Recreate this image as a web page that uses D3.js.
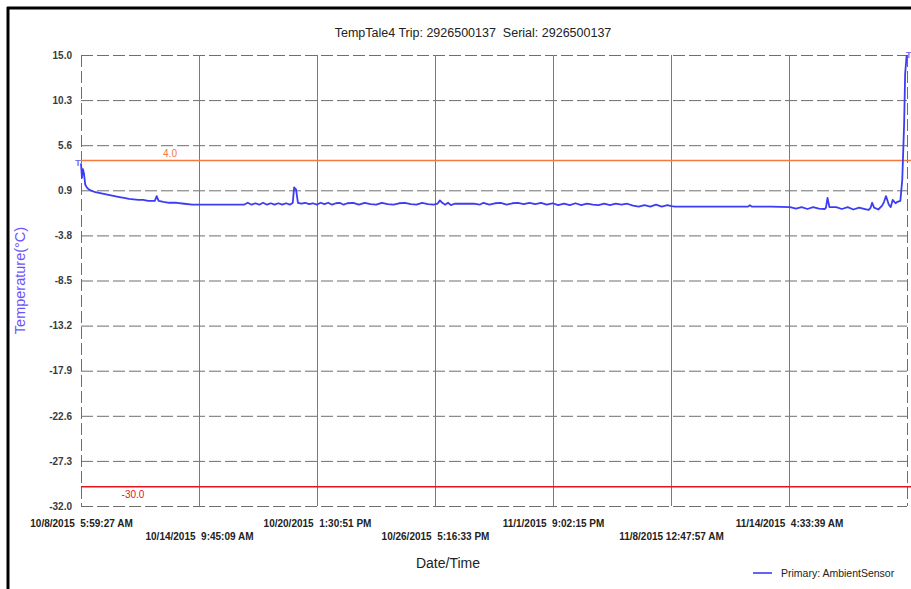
<!DOCTYPE html>
<html>
<head>
<meta charset="utf-8">
<script src="https://cdn.jsdelivr.net/npm/d3@7"></script>
<style>
  body { margin: 0; background: #fff; }
  svg { display: block; font-family: "Liberation Sans", Arial, sans-serif; }
  .grid-h line { stroke: #6e6e6e; stroke-dasharray: 12,4; }
  .grid-v line { stroke: #7a7a7a; }
</style>
</head>
<body>
<script>
// chart text
var chartTitle = "TempTale4 Trip: 2926500137  Serial: 2926500137";
var seriesName = "Primary: AmbientSensor";

// x tick labels, as printed on the report
var xTickLabels = [
  "10/8/2015 5:59:27 AM",
  "10/14/2015 9:45:09 AM",
  "10/20/2015 1:30:51 PM",
  "10/26/2015 5:16:33 PM",
  "11/1/2015 9:02:15 PM",
  "11/8/2015 12:47:57 AM",
  "11/14/2015 4:33:39 AM"
];
var xEndLabel = "11/20/2015 8:19:21 AM";

// y ticks
var yTickValues = [15.0, 10.3, 5.6, 0.9, -3.8, -8.5, -13.2, -17.9, -22.6, -27.3, -32.0];

// alarm limits
var limitValues = [4.0, -30.0];
var limitColors = ["#f5793a", "#e3141c"];

// readings: days since trip start, temperature (C)
var sampleDays = [
  0, 0.05, 0.1, 0.16, 0.22, 0.3, 0.4, 0.5, 0.75, 1.0,
  1.25, 1.5, 1.75, 2.0, 2.25, 2.5, 3.0, 3.25, 3.5, 3.85,
  3.95, 4.05, 4.3, 4.6, 5.0, 5.4, 5.8, 6.2, 7.0, 8.0,
  8.5, 8.7, 8.9, 9.1, 9.3, 9.5, 9.7, 9.9, 10.1, 10.3,
  10.5, 10.7, 10.9, 11.05, 11.12, 11.22, 11.32, 11.5, 11.7, 11.9,
  12.1, 12.3, 12.5, 12.7, 12.9, 13.1, 13.3, 13.5, 13.7, 13.9,
  14.2, 14.5, 14.8, 15.1, 15.4, 15.7, 16.0, 16.3, 16.6, 16.9,
  17.2, 17.5, 17.8, 18.1, 18.4, 18.6, 18.73, 18.85, 19.0, 19.15,
  19.3, 19.5, 20.0, 20.5, 20.8, 21.0, 21.3, 21.6, 21.9, 22.2,
  22.5, 22.8, 23.1, 23.4, 23.7, 24.0, 24.3, 24.6, 24.9, 25.2,
  25.5, 25.8, 26.1, 26.4, 26.7, 27.0, 27.3, 27.6, 27.9, 28.2,
  28.5, 28.8, 29.1, 29.4, 29.7, 30.0, 30.3, 30.6, 30.8, 31.0,
  32.0, 33.0, 34.0, 34.8, 34.9, 35.0, 36.0, 37.0, 37.3, 37.6,
  37.9, 38.2, 38.5, 38.8, 38.87, 38.95, 39.05, 39.4, 39.7, 40.0,
  40.3, 40.6, 40.9, 41.1, 41.2, 41.28, 41.38, 41.6, 41.8, 41.9,
  42.0, 42.15, 42.25, 42.35, 42.5, 42.6, 42.75, 42.85, 42.95, 43.0,
  43.08
];
var sampleTemps = [
  3.7, 2.2, 3.1, 2.6, 1.5, 1.2, 1.0, 0.9, 0.7, 0.6,
  0.5, 0.4, 0.3, 0.2, 0.1, 0.0, -0.1, -0.1, -0.2, -0.2,
  0.3, -0.2, -0.3, -0.4, -0.4, -0.5, -0.6, -0.6, -0.6, -0.6,
  -0.6, -0.4, -0.6, -0.45, -0.6, -0.4, -0.6, -0.45, -0.6, -0.45,
  -0.6, -0.45, -0.6, -0.4, 1.2, 1.0, -0.4, -0.5, -0.4, -0.55,
  -0.45, -0.6, -0.4, -0.55, -0.4, -0.6, -0.45, -0.4, -0.6, -0.45,
  -0.4, -0.6, -0.4, -0.55, -0.6, -0.4, -0.55, -0.6, -0.45, -0.4,
  -0.55, -0.6, -0.4, -0.55, -0.6, -0.5, -0.15, -0.4, -0.6, -0.4,
  -0.65, -0.5, -0.5, -0.5, -0.6, -0.4, -0.6, -0.45, -0.4, -0.6,
  -0.45, -0.4, -0.55, -0.4, -0.55, -0.4, -0.6, -0.45, -0.65, -0.5,
  -0.65, -0.45, -0.65, -0.5, -0.6, -0.65, -0.5, -0.65, -0.5, -0.6,
  -0.5, -0.7, -0.8, -0.65, -0.8, -0.6, -0.8, -0.65, -0.75, -0.8,
  -0.8, -0.8, -0.8, -0.8, -0.65, -0.8, -0.8, -0.85, -1.0, -0.85,
  -1.05, -0.85, -1.0, -1.05, -0.9, 0.1, -0.85, -0.85, -1.05, -0.85,
  -1.1, -0.9, -1.05, -1.15, -0.9, -0.4, -0.9, -1.1, -0.7, -0.3,
  0.3, -0.6, -0.85, -0.1, -0.45, -0.3, -0.2, 2.0, 8.0, 13.0,
  15.0
];

window.onload = drawChart();

function drawChart(){

    var width = 911,
        height = 589;

    var margin = {top: 55, right: 4, bottom: 83, left: 81};
    var innerW = width - margin.left - margin.right,
        innerH = height - margin.top - margin.bottom;

    var parseTime = d3.utcParse("%m/%d/%Y %I:%M:%S %p");
    var formatTime = d3.utcFormat("%-m/%-d/%Y %_I:%M:%S %p");
    var fmt1 = function(d){ return d.toFixed(1); };

    var xTickTimes = xTickLabels.map(function(s){ return parseTime(s); });
    var startTime = xTickTimes[0],
        endTime = parseTime(xEndLabel);

    var data = sampleDays.map(function(d, i){
        return {t: new Date(startTime.getTime() + d * 86400000), v: sampleTemps[i]};
    });

    var svg = d3.select("body")
        .append("svg")
        .attr("width", width)
        .attr("height", height);

    //page frame
    svg.append("line").attr("x1", 7).attr("x2", width).attr("y1", 8).attr("y2", 8)
        .attr("stroke", "#000").attr("stroke-width", 3);
    svg.append("line").attr("x1", 8).attr("x2", 8).attr("y1", 7).attr("y2", height)
        .attr("stroke", "#000").attr("stroke-width", 3);

    var x = d3.scaleUtc()
        .domain([startTime, endTime])
        .range([0, innerW]);

    var y = d3.scaleLinear()
        .domain([-32, 15])
        .range([innerH, 0]);

    var g = svg.append("g")
        .attr("transform", "translate(" + margin.left + "," + margin.top + ")");

    //horizontal dashed grid
    g.append("g")
        .attr("class", "grid-h")
        .selectAll("line")
        .data(yTickValues)
        .enter()
        .append("line")
        .attr("x1", 0)
        .attr("x2", innerW)
        .attr("y1", function(d){ return y(d) + 0.5; })
        .attr("y2", function(d){ return y(d) + 0.5; });

    //vertical grid
    var vTicks = xTickTimes.slice(1);
    g.append("g")
        .attr("class", "grid-v")
        .selectAll("line")
        .data(vTicks)
        .enter()
        .append("line")
        .attr("x1", function(d){ return Math.round(x(d)) + 0.5; })
        .attr("x2", function(d){ return Math.round(x(d)) + 0.5; })
        .attr("y1", 0)
        .attr("y2", innerH);

    //dashed frame left/right
    g.append("g").attr("class", "grid-h")
        .selectAll("line")
        .data([0, innerW])
        .enter()
        .append("line")
        .attr("x1", function(d){ return d + 0.5; })
        .attr("x2", function(d){ return d + 0.5; })
        .attr("y1", 0)
        .attr("y2", innerH);

    //y axis labels
    var yAxis = d3.axisLeft(y)
        .tickValues(yTickValues)
        .tickFormat(fmt1)
        .tickSize(0)
        .tickPadding(9);
    var yg = g.append("g").call(yAxis);
    yg.select(".domain").remove();
    yg.selectAll("text")
        .attr("font-size", "10px")
        .attr("font-weight", "bold")
        .attr("fill", "#3a3a3a")
        .attr("font-family", "Liberation Sans, Arial, sans-serif");

    //x axis labels, staggered in two rows
    var xAxis = d3.axisBottom(x)
        .tickValues(xTickTimes)
        .tickFormat(formatTime)
        .tickSize(0)
        .tickPadding(0);
    var xg = g.append("g")
        .attr("transform", "translate(0," + innerH + ")")
        .call(xAxis);
    xg.select(".domain").remove();
    xg.selectAll("text")
        .attr("font-size", "10px")
        .attr("font-weight", "bold")
        .attr("fill", "#222")
        .attr("font-family", "Liberation Sans, Arial, sans-serif")
        .style("white-space", "pre")
        .attr("dy", null)
        .attr("y", function(d, i){ return i % 2 === 0 ? 21 : 34; });

    //alarm limit lines
    var limits = g.append("g");
    limits.selectAll("line")
        .data(limitValues)
        .enter()
        .append("line")
        .attr("x1", 0)
        .attr("x2", innerW + margin.right)
        .attr("y1", function(d){ return y(d); })
        .attr("y2", function(d){ return y(d); })
        .attr("stroke", function(d, i){ return limitColors[i]; })
        .attr("stroke-width", 1.5);
    limits.selectAll("text")
        .data(limitValues)
        .enter()
        .append("text")
        .attr("x", function(d, i){ return i === 0 ? 89 : 52; })
        .attr("y", function(d, i){ return i === 0 ? y(d) - 4 : y(d) + 11; })
        .attr("text-anchor", "middle")
        .attr("font-size", "10px")
        .attr("fill", function(d, i){ return limitColors[i]; })
        .text(function(d){ return fmt1(d); });

    //temperature line
    var line = d3.line()
        .x(function(d){ return x(d.t); })
        .y(function(d){ return y(d.v); });

    g.append("path")
        .datum(data)
        .attr("fill", "none")
        .attr("stroke", "#3c3cf5")
        .attr("stroke-width", 1.8)
        .attr("stroke-linejoin", "round")
        .attr("d", line);

    //trip start / stop markers
    var ends = [data[0], data[data.length - 1]];
    g.selectAll(".marker")
        .data(ends)
        .enter()
        .append("text")
        .attr("class", "marker")
        .attr("x", function(d, i){ return x(d.t) + (i === 0 ? -3 : 2); })
        .attr("y", function(d){ return y(d.v) + 3; })
        .attr("text-anchor", "middle")
        .attr("font-size", "9px")
        .attr("font-weight", "bold")
        .attr("fill", "#7b6cf2")
        .text("T");

    //title
    svg.append("text")
        .attr("x", 473)
        .attr("y", 37)
        .attr("text-anchor", "middle")
        .attr("font-size", "12.5px")
        .attr("fill", "#222")
        .style("white-space", "pre")
        .text(chartTitle);

    //axis titles
    svg.append("text")
        .attr("transform", "translate(25," + (margin.top + innerH / 2) + ") rotate(-90)")
        .attr("text-anchor", "middle")
        .attr("font-size", "14.5px")
        .attr("fill", "#6b52ff")
        .text("Temperature(\u00B0C)");

    svg.append("text")
        .attr("x", 448)
        .attr("y", 568)
        .attr("text-anchor", "middle")
        .attr("font-size", "14px")
        .attr("fill", "#222")
        .text("Date/Time");

    //legend
    var legend = svg.append("g")
        .attr("transform", "translate(753,573)");
    legend.append("line")
        .attr("x1", 0).attr("x2", 19)
        .attr("stroke", "#3c3cf5")
        .attr("stroke-width", 1.6);
    legend.append("text")
        .attr("x", 28)
        .attr("y", 4)
        .attr("font-size", "10.5px")
        .attr("fill", "#222")
        .text(seriesName);
};
</script>
</body>
</html>
